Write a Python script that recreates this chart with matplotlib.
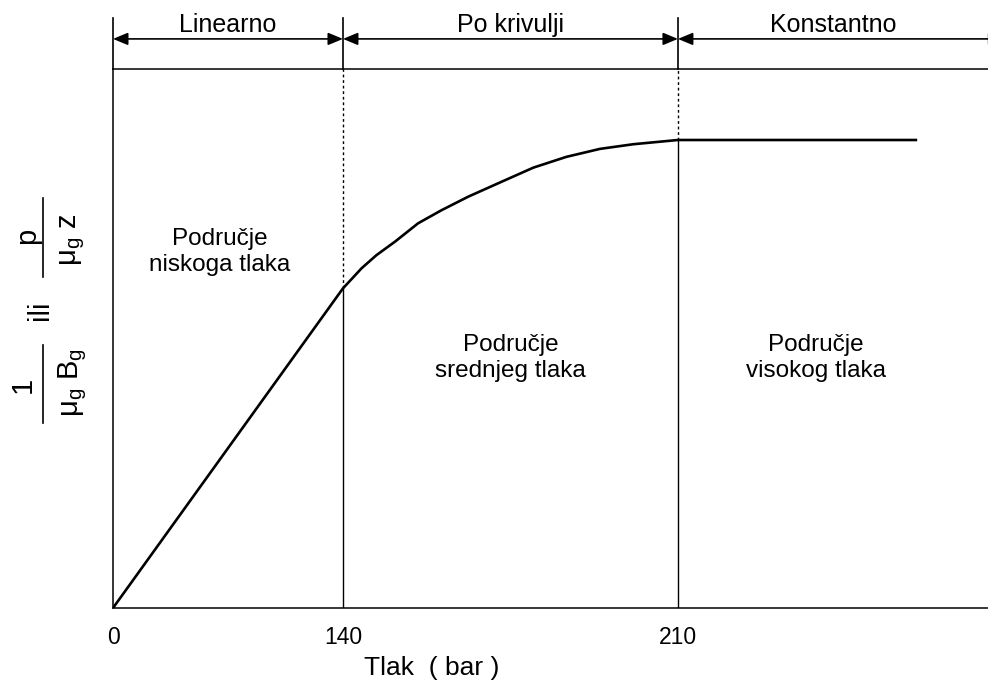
import numpy as np
import matplotlib
matplotlib.use("Agg")
import matplotlib.pyplot as plt
from matplotlib.lines import Line2D

plt.rcParams["font.family"] = ["Liberation Sans", "DejaVu Sans"]
plt.rcParams["mathtext.fontset"] = "custom"
plt.rcParams["mathtext.rm"] = "Liberation Sans"
plt.rcParams["mathtext.it"] = "Liberation Sans"
plt.rcParams["mathtext.default"] = "regular"

# Curve: 1/(mu_g B_g) (or p/(mu_g z)) versus pressure, normalised to the plateau
pressure = [0, 140, 143.9, 147.0, 150.9, 155.7, 160.6, 166.2, 173.2, 179.8,
            186.7, 193.7, 200.7, 210, 260]
value = [0.0, 0.683, 0.726, 0.754, 0.783, 0.822, 0.850, 0.879, 0.911, 0.941,
         0.964, 0.981, 0.991, 1.0, 1.0]

# Pressure boundaries between regions and their tick labels
boundaries = [0, 140, 210]
tick_labels = ["0", "140", "210"]
boundary_values = [0.0, 0.683, 1.0]
p_max = 274.8

zone_titles = ["Linearno", "Po krivulji", "Konstantno"]
zone_names = ["Područje\nniskoga tlaka", "Područje\nsrednjeg tlaka", "Područje\nvisokog tlaka"]
zone_name_pos = [(65, 0.761), (175, 0.534), (238.8, 0.534)]


# Schematic (piecewise-linear) pressure axis: the low-pressure band is compressed
def fwd(p):
    p = np.asarray(p, dtype=float)
    return np.where(p <= 140, p * 230.0 / 140.0, 230.0 + (p - 140.0) * 335.0 / 70.0)


def inv(x):
    x = np.asarray(x, dtype=float)
    return np.where(x <= 230, x * 140.0 / 230.0, 140.0 + (x - 230.0) * 70.0 / 335.0)


fig = plt.figure(figsize=(9.88, 6.84), dpi=100)
ax = fig.add_axes([113 / 988, 76 / 684, 875 / 988, 539 / 684])
ax.set_xscale("function", functions=(fwd, inv))
ax.set_xlim(0, p_max)
y_top = 1.1517
ax.set_ylim(0, y_top)

ax.spines["right"].set_visible(False)
for side in ["left", "bottom", "top"]:
    ax.spines[side].set_linewidth(1.1)

ax.plot(pressure, value, color="black", lw=1.9, solid_capstyle="butt", zorder=3)

# Region boundaries: solid below the curve, dotted above it
for b, v in zip(boundaries[1:], boundary_values[1:]):
    ax.plot([b, b], [0, v], color="black", lw=1.0)
    ax.plot([b, b], [v, y_top], color="black", lw=1.0, linestyle=(0, (2, 2)))

# Bracket markers above the plot
tick_top = 1.261
arrow_y = 1.216
for b in boundaries:
    ax.plot([b, b], [y_top, tick_top], color="black", lw=1.2, clip_on=False)

ends = boundaries + [278]
for i, title in enumerate(zone_titles):
    a, b = ends[i], ends[i + 1]
    ax.annotate("", xy=(b, arrow_y), xytext=(a, arrow_y),
                arrowprops=dict(arrowstyle="<|-|>,head_length=0.6,head_width=0.25",
                                mutation_scale=15, color="black", lw=1.2,
                                shrinkA=0, shrinkB=0),
                annotation_clip=False)
    mid = inv((fwd(a) + fwd(min(b, p_max))) / 2)
    ax.text(float(mid), 1.2457, title, ha="center", va="center", fontsize=18)

for name, (px, py) in zip(zone_names, zone_name_pos):
    ax.text(px, py, name, ha="center", va="center", fontsize=17.5, linespacing=1.25)

ax.set_xticks(boundaries)
ax.set_xticklabels(tick_labels, fontsize=16.5)
ax.tick_params(axis="x", length=0, pad=13)
ax.set_yticks([])

ax.set_xlabel("Tlak  ( bar )", fontsize=19)
ax.xaxis.set_label_coords((432 - 113) / 875, -(668 - 608) / 539)
ax.xaxis.label.set_va("center")


# Y-axis label drawn as two stacked fractions
def fx(px):
    return px / 988


def fy(py):
    return 1 - py / 684


ylab_size = 21
fig.text(fx(23), fy(385), "1", rotation=90, ha="center", va="center", fontsize=ylab_size)
fig.add_artist(Line2D([fx(43), fx(43)], [fy(345), fy(423)], color="black", lw=1.2))
fig.text(fx(73), fy(382), r"$\mathregular{\mu_g\ B_g}$", rotation=90, ha="center",
         va="center", fontsize=ylab_size)
fig.text(fx(40), fy(310), "ili", rotation=90, ha="center", va="center", fontsize=ylab_size)
fig.text(fx(27), fy(236), "p", rotation=90, ha="center", va="center", fontsize=ylab_size)
fig.add_artist(Line2D([fx(43), fx(43)], [fy(198), fy(277)], color="black", lw=1.2))
fig.text(fx(73), fy(240), r"$\mathregular{\mu_g\ z}$", rotation=90, ha="center",
         va="center", fontsize=ylab_size)

fig.savefig("out.png", dpi=100)
